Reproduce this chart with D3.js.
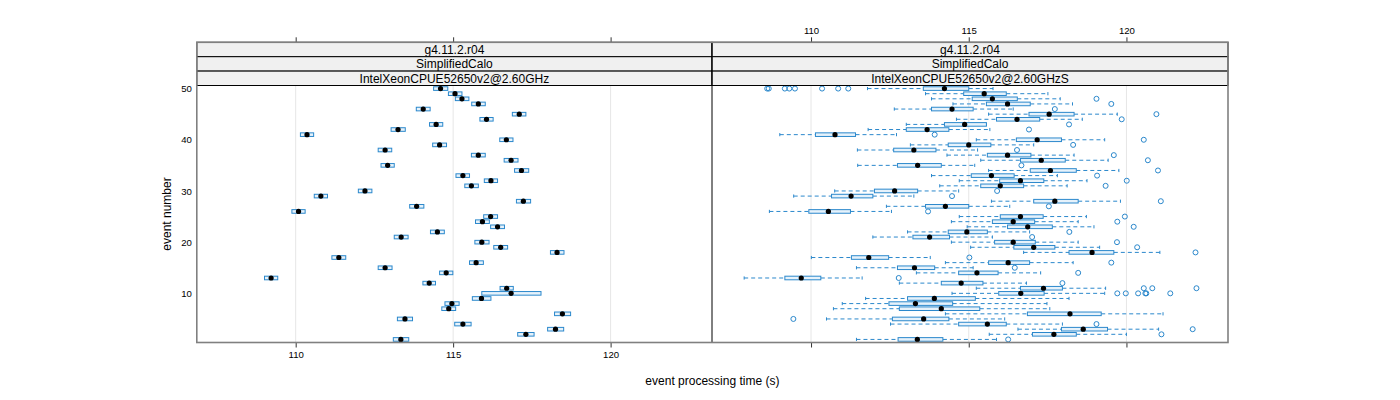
<!DOCTYPE html>
<html><head><meta charset="utf-8">
<script src="https://cdn.jsdelivr.net/npm/d3@7"></script>
<style>body{margin:0;background:#fff} svg{display:block} text{font-family:"Liberation Sans",Arial,sans-serif}</style>
</head><body><svg id="c" width="1400" height="400"></svg>
<script>
const eventNumbers = [1,2,3,4,5,6,7,8,9,10,11,12,13,14,15,16,17,18,19,20,21,22,23,24,25,26,27,28,29,30,31,32,33,34,35,36,37,38,39,40,41,42,43,44,45,46,47,48,49,50];
const yTicks = [10,20,30,40,50];
const xTicks = [110,115,120];
const stripLeft = ["g4.11.2.r04","SimplifiedCalo","IntelXeonCPUE52650v2@2.60GHz"];
const stripRight = ["g4.11.2.r04","SimplifiedCalo","IntelXeonCPUE52650v2@2.60GHzS"];
const xTitle = "event processing time (s)";
const yTitle = "event number";

// Left panel (IntelXeonCPUE52650v2@2.60GHz)
const leftMedian = [113.34,117.31,118.25,115.31,113.47,118.47,114.86,114.96,115.90,116.84,116.70,114.24,109.22,114.78,112.84,115.73,111.37,118.30,116.51,115.91,113.35,114.50,116.41,115.93,116.19,110.09,113.84,117.23,110.80,112.20,115.58,116.20,115.31,117.17,112.92,116.84,115.80,112.84,114.57,116.69,110.36,113.25,114.46,116.06,117.10,114.05,115.80,115.28,115.06,114.60];
const leftQ1 = [113.10,117.05,118.00,115.05,113.23,118.22,114.64,114.74,115.61,115.91,116.49,114.04,109.01,114.57,112.62,115.52,111.15,118.09,116.29,115.69,113.13,114.28,116.19,115.71,115.97,109.88,113.62,117.01,110.59,111.99,115.37,115.99,115.09,116.95,112.71,116.62,115.58,112.62,114.35,116.48,110.15,113.03,114.25,115.85,116.88,113.83,115.59,115.07,114.85,114.38];
const leftQ3 = [113.59,117.57,118.51,115.57,113.71,118.73,115.08,115.19,116.20,117.79,116.91,114.44,109.43,114.99,113.06,115.96,111.59,118.52,116.73,116.14,113.57,114.72,116.63,116.15,116.41,110.30,114.07,117.46,111.01,112.42,115.80,116.41,115.52,117.40,113.13,117.06,116.02,113.05,114.79,116.90,110.57,113.48,114.67,116.27,117.31,114.27,116.02,115.50,115.28,114.83];

// Right panel (IntelXeonCPUE52650v2@2.60GHzS)
const rightLow = [111.44,115.65,116.56,112.52,110.49,114.26,110.71,110.99,111.73,114.47,115.24,112.80,107.88,113.34,111.44,114.26,110.01,116.74,115.06,114.45,111.96,113.06,114.95,114.45,114.70,108.68,112.39,115.72,109.45,110.75,114.08,114.70,113.82,115.63,111.48,115.38,114.31,111.47,113.15,115.24,109.01,111.81,113.02,114.61,115.63,112.64,114.50,113.82,113.63,111.79];
const rightQ1 = [112.76,117.02,117.94,114.68,112.58,116.86,112.80,112.47,113.06,115.95,116.64,114.13,109.17,114.68,112.74,115.63,111.28,118.18,116.43,115.82,113.23,114.35,116.23,115.75,116.00,109.93,113.63,117.06,110.65,112.01,115.38,115.98,115.08,116.95,112.74,116.64,115.59,112.62,114.35,116.51,110.14,113.02,114.23,115.88,116.91,113.82,115.56,115.11,114.84,113.56];
const rightMedian = [113.37,117.70,118.63,115.59,113.57,118.21,114.13,113.31,113.91,116.65,117.37,114.76,109.69,115.26,113.28,116.25,111.83,118.91,117.06,116.41,113.76,114.94,116.87,116.41,116.64,110.55,114.26,117.73,111.27,112.65,116.00,116.64,115.72,117.59,113.38,117.30,116.23,113.26,115.00,117.17,110.76,113.68,114.87,116.53,117.55,114.47,116.23,115.75,115.49,114.23];
const rightQ3 = [114.18,118.41,119.40,116.19,114.37,119.20,115.35,114.49,115.21,117.39,117.97,115.45,110.31,115.93,113.92,116.93,112.46,119.60,117.73,117.11,114.39,115.59,117.65,117.09,117.36,111.25,115.00,118.47,111.96,113.38,116.74,117.38,116.44,118.41,114.13,118.06,116.97,113.96,115.70,117.94,111.41,114.37,115.56,117.25,118.34,115.14,116.95,116.54,116.19,115.00];
const rightHigh = [115.88,120.00,121.02,117.97,116.14,121.16,117.57,117.48,118.18,119.31,119.34,116.83,111.62,117.28,115.14,118.31,113.78,121.06,119.15,118.47,115.75,116.93,118.97,118.47,118.73,112.55,116.30,119.81,113.26,114.68,118.12,118.75,117.81,119.76,115.19,119.42,118.34,115.28,117.06,119.31,112.71,115.67,115.56,118.60,119.71,116.41,118.29,117.90,117.51,115.77];
const rightOutliers = [[116.25],[121.11],[122.10],[119.05],[109.44],[],[],[],[],[119.71,119.98,120.37,120.60,120.63,121.39],[120.55,120.82,122.22],[117.97],[112.78],[118.47],[116.46],[119.52],[115.02],[122.19],[120.34],[119.70],[117.01],[118.19],[120.23],[119.71],[119.95],[113.71],[117.54],[121.09],[114.47],[115.90],[119.34],[120.01],[119.07],[121.00],[116.67],[120.68],[119.60],[116.53],[118.31],[120.55],[113.92],[116.91],[118.18],[119.85],[120.95],[117.73],[119.52],[119.05],[],[108.61,108.66,109.17,109.31,109.49,110.35,110.86,111.18]];

const svg = d3.select("#c");
svg.append("rect").attr("width",1400).attr("height",400).attr("fill","#fff");

const PL = 196.8, PM = 712, PR = 1228;
const PT = 85.5, PB = 342.5, ST = 42.3;
const stripH = (PT - ST)/3;
const xDomain = [106.86, 123.22];
const y = d3.scaleLinear().domain([0.4, 50.6]).range([PB, PT]);
const BLUE = "#2b88cc";
const FONT = "Liberation Sans, Arial, sans-serif";

const panels = [
  {x0:PL, x1:PM, strip:stripLeft, bottomLabels:true, topLabels:false},
  {x0:PM, x1:PR, strip:stripRight, bottomLabels:false, topLabels:true}
];

panels.forEach((p) => {
  const x = d3.scaleLinear().domain(xDomain).range([p.x0, p.x1]);
  p.x = x;
  const g = svg.append("g");
  g.selectAll("line.grid").data(xTicks).join("line")
    .attr("x1", d=>x(d)).attr("x2", d=>x(d)).attr("y1", PT).attr("y2", PB)
    .attr("stroke", "#e6e6e6").attr("stroke-width", 1);
  p.strip.forEach((s, i) => {
    const sy = ST + i*stripH;
    g.append("rect").attr("x", p.x0).attr("y", sy).attr("width", p.x1-p.x0).attr("height", stripH)
      .attr("fill", "#f0f0f0").attr("stroke", "#000").attr("stroke-width", 1);
    g.append("text").attr("x", (p.x0+p.x1)/2).attr("y", sy + stripH/2 + 4.5)
      .attr("text-anchor","middle").attr("font-size", 12).attr("fill","#000").text(s);
  });
  const ab = g.append("g").attr("transform", `translate(0,${PB})`)
    .call(d3.axisBottom(x).tickValues(xTicks).tickSize(5).tickPadding(4)
      .tickFormat(p.bottomLabels ? d3.format("d") : () => ""));
  ab.select(".domain").remove();
  ab.selectAll("line").attr("stroke","#333");
  ab.selectAll("text").attr("font-size", 9.6).attr("fill","#000").attr("font-family",FONT);
  const at = g.append("g").attr("transform", `translate(0,${ST})`)
    .call(d3.axisTop(x).tickValues(xTicks).tickSize(5).tickPadding(3)
      .tickFormat(p.topLabels ? d3.format("d") : () => ""));
  at.select(".domain").remove();
  at.selectAll("line").attr("stroke","#333");
  at.selectAll("text").attr("font-size", 9.6).attr("fill","#000").attr("font-family",FONT);
});

const ay = svg.append("g").attr("transform", `translate(${PL},0)`)
  .call(d3.axisLeft(y).tickValues(yTicks).tickSize(0).tickPadding(5));
ay.select(".domain").remove();
ay.selectAll("text").attr("font-size", 9.6).attr("fill","#000").attr("font-family",FONT);

const BH = 3.6;
function drawBox(g, x, e, lo, q1, med, q3, hi, outs, withWhiskers) {
  const cy = y(e);
  if (withWhiskers) {
    g.append("line").attr("x1", x(lo)).attr("x2", x(q1)).attr("y1", cy).attr("y2", cy)
      .attr("stroke", BLUE).attr("stroke-dasharray","4,3");
    g.append("line").attr("x1", x(q3)).attr("x2", x(hi)).attr("y1", cy).attr("y2", cy)
      .attr("stroke", BLUE).attr("stroke-dasharray","4,3");
    [lo, hi].forEach(v => g.append("line").attr("x1", x(v)).attr("x2", x(v))
      .attr("y1", cy-1.6).attr("y2", cy+1.6).attr("stroke", BLUE));
  }
  g.append("rect").attr("x", x(q1)).attr("y", cy - BH/2).attr("width", x(q3)-x(q1)).attr("height", BH)
    .attr("fill", "#e6f2fb").attr("stroke", BLUE).attr("stroke-width", 1);
  g.append("circle").attr("cx", x(med)).attr("cy", cy).attr("r", 2.6).attr("fill","#000");
  (outs||[]).forEach(v => g.append("circle").attr("cx", x(v)).attr("cy", cy).attr("r", 2.5)
    .attr("fill","none").attr("stroke", BLUE).attr("stroke-width", 1));
}

const gl = svg.append("g");
eventNumbers.forEach((e, i) => {
  drawBox(gl, panels[0].x, e, leftQ1[i], leftQ1[i], leftMedian[i], leftQ3[i], leftQ3[i], [], false);
});
const gr = svg.append("g");
eventNumbers.forEach((e, i) => {
  drawBox(gr, panels[1].x, e, rightLow[i], rightQ1[i], rightMedian[i], rightQ3[i], rightHigh[i], rightOutliers[i], true);
});

svg.append("line").attr("x1", PM).attr("x2", PM).attr("y1", ST).attr("y2", PB).attr("stroke","#000").attr("stroke-width",1);
svg.append("line").attr("x1", PL).attr("x2", PR).attr("y1", PT).attr("y2", PT).attr("stroke","#000").attr("stroke-width",1);
svg.append("rect").attr("x", PL).attr("y", ST).attr("width", PR-PL).attr("height", PB-ST)
  .attr("fill","none").attr("stroke","#808080").attr("stroke-width",1.6);

svg.append("text").attr("x", (PL+PR)/2).attr("y", 385).attr("text-anchor","middle")
  .attr("font-size", 12).attr("fill","#000").text(xTitle);
svg.append("text").attr("transform", `translate(171,${(PT+PB)/2}) rotate(-90)`)
  .attr("text-anchor","middle").attr("font-size", 12).attr("fill","#000").text(yTitle);
</script></body></html>
